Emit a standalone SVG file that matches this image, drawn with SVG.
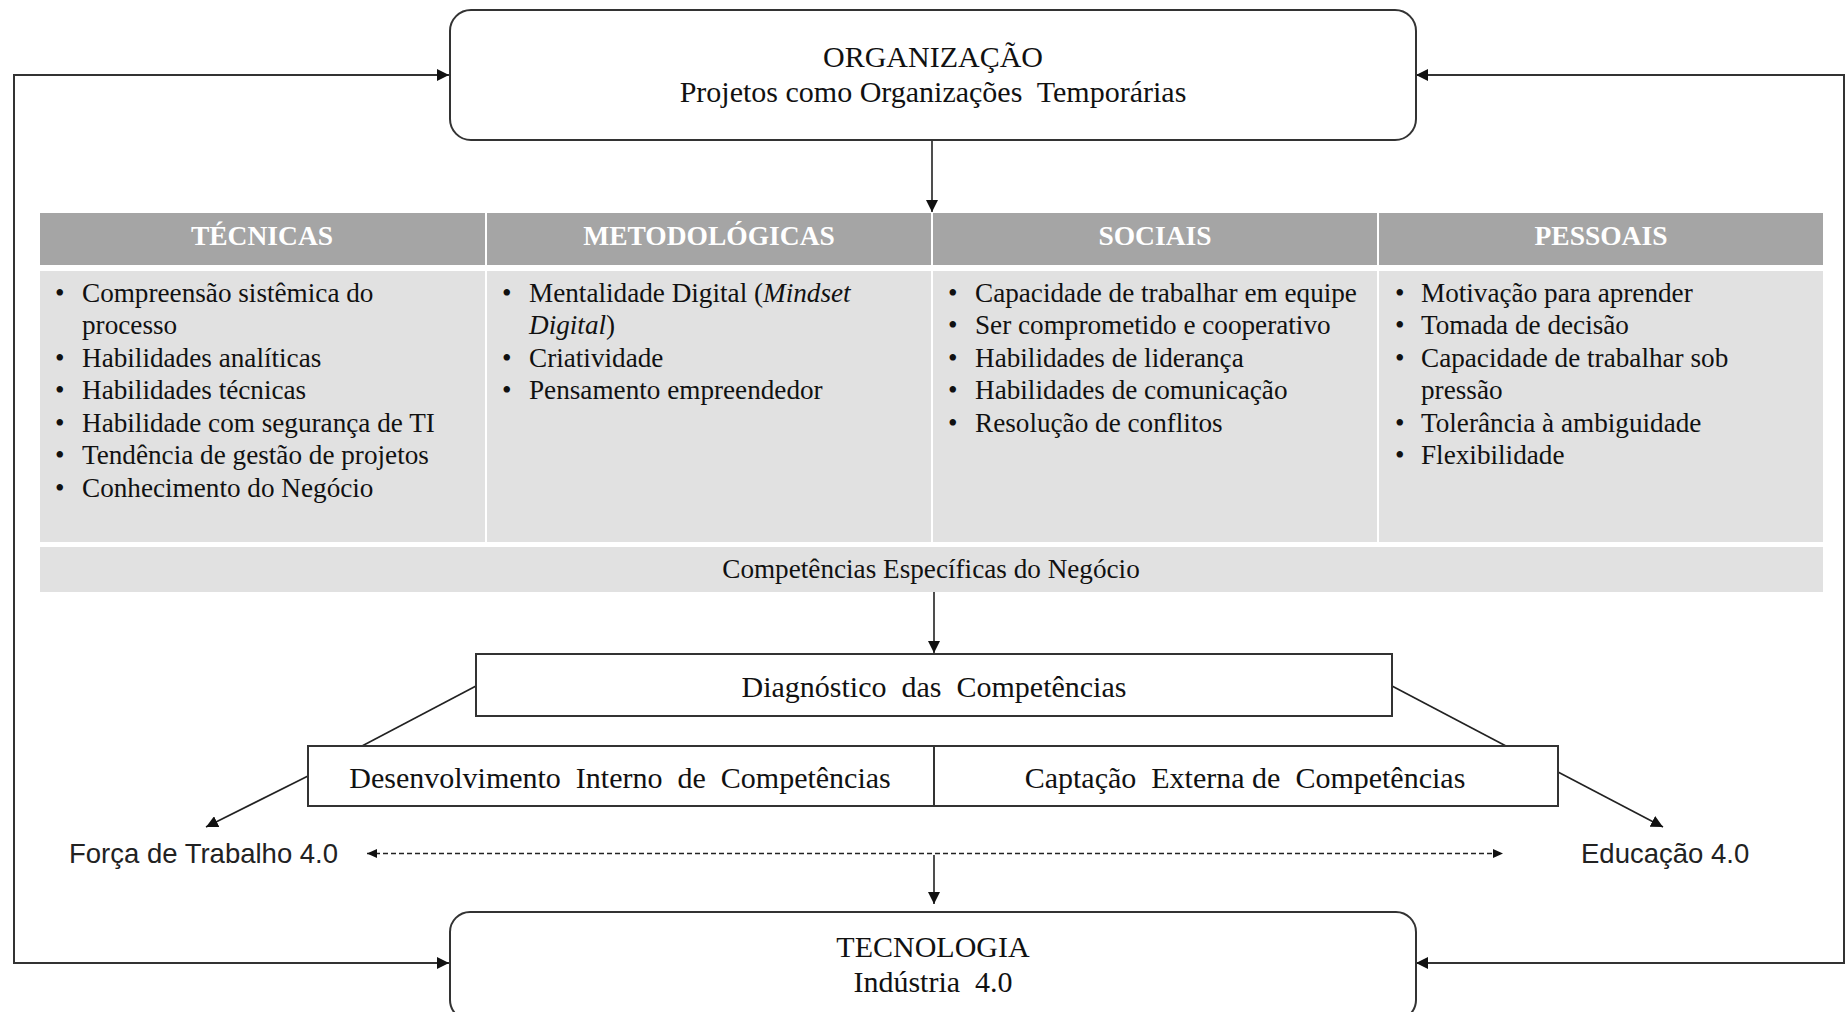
<svg xmlns="http://www.w3.org/2000/svg" width="1847" height="1012" viewBox="0 0 1847 1012">
  <defs>
    <marker id="arrow" markerUnits="userSpaceOnUse" markerWidth="12" markerHeight="12" refX="12" refY="6" orient="auto-start-reverse">
      <path d="M0,0 L12,6 L0,12 z" fill="#111"/>
    </marker>
    <marker id="arrowSmall" markerUnits="userSpaceOnUse" markerWidth="10" markerHeight="10" refX="10" refY="5" orient="auto-start-reverse">
      <path d="M0,0.5 L10,5 L0,9.5 z" fill="#111"/>
    </marker>
    <style>
      .box { fill: #fff; stroke: #333; stroke-width: 2; }
      .serif { font-family: "Liberation Serif", "Times New Roman", serif; fill: #111; }
      .title { font-size: 30px; text-anchor: middle; white-space: pre; }
      .head { font-family: "Liberation Serif", "Times New Roman", serif; font-size: 27.5px; font-weight: bold; fill: #fff; text-anchor: middle; }
      .item { font-size: 27.2px; white-space: pre; }
      .sans { font-family: "Liberation Sans", Arial, sans-serif; font-size: 27.5px; fill: #222; }
      .link { fill: none; stroke: #333; stroke-width: 2; }
      .thin { fill: none; stroke: #222; stroke-width: 1.6; }
      .dash { fill: none; stroke: #222; stroke-width: 1.5; stroke-dasharray: 5 3; }
      .hdr { fill: #a5a5a5; }
      .cell { fill: #e1e1e1; }
    </style>
  </defs>

  <!-- Connectors -->
  <g id="connectors">
    <path class="link" d="M449,75 H14 V963 H449" marker-start="url(#arrow)" marker-end="url(#arrow)"/>
    <path class="link" d="M1416,75 H1844 V963 H1416" marker-start="url(#arrow)" marker-end="url(#arrow)"/>
    <line class="thin" x1="932" y1="140" x2="932" y2="212" marker-end="url(#arrow)"/>
    <line class="thin" x1="934" y1="592" x2="934" y2="653" marker-end="url(#arrow)"/>
    <line class="thin" x1="476" y1="686" x2="362" y2="746"/>
    <line class="thin" x1="1392" y1="686" x2="1506" y2="746"/>
    <line class="thin" x1="308" y1="776" x2="206" y2="827" marker-end="url(#arrow)"/>
    <line class="thin" x1="1558" y1="772" x2="1663" y2="827" marker-end="url(#arrow)"/>
    <line class="dash" x1="367" y1="853.5" x2="1503" y2="853.5" marker-start="url(#arrowSmall)" marker-end="url(#arrowSmall)"/>
    <line class="thin" x1="934" y1="855" x2="934" y2="904" marker-end="url(#arrow)"/>
  </g>

  <!-- Organização -->
  <g id="organizacao">
    <rect class="box" x="450" y="10" width="966" height="130" rx="21"/>
    <text class="serif title" x="933" y="67">ORGANIZAÇÃO</text>
    <text class="serif title" x="933" y="102">Projetos como Organizações  Temporárias</text>
  </g>

  <!-- Competency table -->
  <g id="competencias">
    <rect class="hdr" x="40" y="213" width="445" height="52"/>
    <rect class="hdr" x="487" y="213" width="444" height="52"/>
    <rect class="hdr" x="933" y="213" width="444" height="52"/>
    <rect class="hdr" x="1379" y="213" width="444" height="52"/>
    <rect class="cell" x="40" y="271" width="445" height="271"/>
    <rect class="cell" x="487" y="271" width="444" height="271"/>
    <rect class="cell" x="933" y="271" width="444" height="271"/>
    <rect class="cell" x="1379" y="271" width="444" height="271"/>
    <rect class="cell" x="40" y="547" width="1783" height="45"/>

    <text class="head" x="262" y="245">TÉCNICAS</text>
    <text class="head" x="709" y="245">METODOLÓGICAS</text>
    <text class="head" x="1155" y="245">SOCIAIS</text>
    <text class="head" x="1601" y="245">PESSOAIS</text>

    <g id="tecnicas" class="serif item">
      <text x="55" y="301.5">•</text><text x="82" y="301.5">Compreensão sistêmica do</text>
      <text x="82" y="334">processo</text>
      <text x="55" y="366.5">•</text><text x="82" y="366.5">Habilidades  analíticas</text>
      <text x="55" y="399">•</text><text x="82" y="399">Habilidades  técnicas</text>
      <text x="55" y="431.5">•</text><text x="82" y="431.5">Habilidade  com segurança de TI</text>
      <text x="55" y="464">•</text><text x="82" y="464">Tendência de gestão de projetos</text>
      <text x="55" y="496.5">•</text><text x="82" y="496.5">Conhecimento do Negócio</text>
    </g>
    <g id="metodologicas" class="serif item">
      <text x="502" y="301.5">•</text><text x="529" y="301.5">Mentalidade Digital  (<tspan font-style="italic">Mindset</tspan></text>
      <text x="529" y="334"><tspan font-style="italic">Digital</tspan>)</text>
      <text x="502" y="366.5">•</text><text x="529" y="366.5">Criatividade</text>
      <text x="502" y="399">•</text><text x="529" y="399">Pensamento empreendedor</text>
    </g>
    <g id="sociais" class="serif item">
      <text x="948" y="301.5">•</text><text x="975" y="301.5">Capacidade de trabalhar  em  equipe</text>
      <text x="948" y="334">•</text><text x="975" y="334">Ser comprometido e cooperativo</text>
      <text x="948" y="366.5">•</text><text x="975" y="366.5">Habilidades  de liderança</text>
      <text x="948" y="399">•</text><text x="975" y="399">Habilidades  de comunicação</text>
      <text x="948" y="431.5">•</text><text x="975" y="431.5">Resolução de conflitos</text>
    </g>
    <g id="pessoais" class="serif item">
      <text x="1395" y="301.5">•</text><text x="1421" y="301.5">Motivação  para aprender</text>
      <text x="1395" y="334">•</text><text x="1421" y="334">Tomada de decisão</text>
      <text x="1395" y="366.5">•</text><text x="1421" y="366.5">Capacidade de trabalhar  sob</text>
      <text x="1421" y="399">pressão</text>
      <text x="1395" y="431.5">•</text><text x="1421" y="431.5">Tolerância à ambiguidade</text>
      <text x="1395" y="464">•</text><text x="1421" y="464">Flexibilidade</text>
    </g>
    <text class="serif item" x="931" y="578" text-anchor="middle">Competências Específicas do Negócio</text>
  </g>

  <!-- Diagnóstico -->
  <g id="diagnostico">
    <rect class="box" x="476" y="654" width="916" height="62"/>
    <text class="serif title" x="934" y="697">Diagnóstico  das  Competências</text>
  </g>

  <!-- Desenvolvimento / Captação -->
  <g id="desenvolvimento">
    <rect class="box" x="308" y="746" width="626" height="60"/>
    <text class="serif title" x="620" y="788">Desenvolvimento  Interno  de  Competências</text>
  </g>
  <g id="captacao">
    <rect class="box" x="934" y="746" width="624" height="60"/>
    <text class="serif title" x="1245" y="788">Captação  Externa de  Competências</text>
  </g>

  <!-- Side labels -->
  <g id="forca-trabalho">
    <text class="sans" x="69" y="863">Força de Trabalho 4.0</text>
  </g>
  <g id="educacao">
    <text class="sans" x="1581" y="863">Educação 4.0</text>
  </g>

  <!-- Tecnologia -->
  <g id="tecnologia">
    <rect class="box" x="450" y="912" width="966" height="108" rx="20"/>
    <text class="serif title" x="933" y="957">TECNOLOGIA</text>
    <text class="serif title" x="933" y="992">Indústria  4.0</text>
  </g>
</svg>
